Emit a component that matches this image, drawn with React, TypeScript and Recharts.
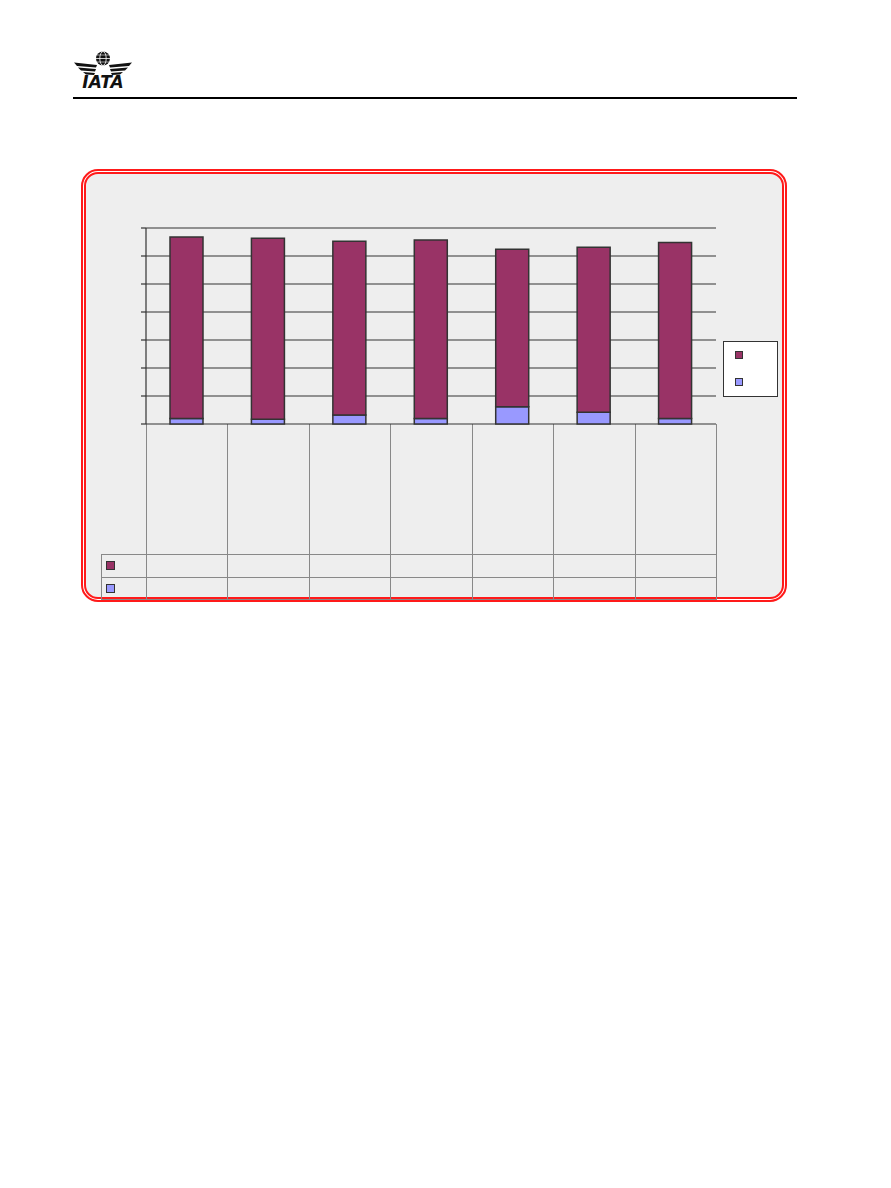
import { BarChart, Bar, XAxis, YAxis, CartesianGrid } from 'recharts';

// categories (labels are not visible in the source picture)
const categories = ['1', '2', '3', '4', '5', '6', '7'];
const lowerSeries = [0.2, 0.17, 0.32, 0.2, 0.62, 0.42, 0.2];
const upperSeries = [6.48, 6.46, 6.21, 6.37, 5.62, 5.89, 6.28];
const yTicks = [0, 1, 2, 3, 4, 5, 6, 7];

const data = categories.map((c, i) => ({
  name: c,
  lower: lowerSeries[i],
  upper: upperSeries[i],
}));

const PURPLE = '#993366';
const BLUE = '#9999ff';
const EDGE = '#333333';
const TABLE_LINE = '#888888';

// plot area in page pixels
const PLOT_LEFT = 146;
const PLOT_RIGHT = 716;
const PLOT_TOP = 228;
const PLOT_BOTTOM = 424;
const CHART_W = 891;
const CHART_H = 620;

const NoLabel = () => <g />;

function IataLogo() {
  return (
    <svg width={70} height={50} style={{ position: 'absolute', left: 70, top: 45 }}>
      <circle cx={33} cy={13.5} r={7} fill="#111" />
      <ellipse cx={33} cy={13.5} rx={3.2} ry={7} fill="none" stroke="#fff" strokeWidth={0.8} />
      <line x1={26} y1={13.5} x2={40} y2={13.5} stroke="#fff" strokeWidth={0.8} />
      <line x1={27} y1={10} x2={39} y2={10} stroke="#fff" strokeWidth={0.6} />
      <line x1={27} y1={17} x2={39} y2={17} stroke="#fff" strokeWidth={0.6} />
      {/* wings */}
      <polygon points="4,17.5 27,20 26,22.5 7,21" fill="#111" />
      <polygon points="8,22.5 26,24 25,26.5 11,25.5" fill="#111" />
      <polygon points="13,27 25,28 24,30 16,29.5" fill="#111" />
      <polygon points="62,17.5 39,20 40,22.5 59,21" fill="#111" />
      <polygon points="58,22.5 40,24 41,26.5 55,25.5" fill="#111" />
      <polygon points="53,27 41,28 42,30 50,29.5" fill="#111" />
      <text
        x={33}
        y={42.5}
        textAnchor="middle"
        fontFamily="'DejaVu Sans', 'Liberation Sans', sans-serif"
        fontWeight="bold"
        fontStyle="italic"
        fontSize={17}
        fill="#111"
      >
        IATA
      </text>
    </svg>
  );
}

function KeySquare({ x, y, color, size }: { x: number; y: number; color: string; size: number }) {
  return (
    <div
      style={{
        position: 'absolute',
        left: x,
        top: y,
        width: size,
        height: size,
        background: color,
        border: `1px solid ${EDGE}`,
        boxSizing: 'border-box',
      }}
    />
  );
}

function DataTable() {
  const colW = (PLOT_RIGHT - PLOT_LEFT) / categories.length;
  const lines = [];
  for (let i = 0; i <= categories.length; i++) {
    const x = Math.round(PLOT_LEFT + i * colW);
    lines.push(
      <div
        key={'v' + i}
        style={{ position: 'absolute', left: x, top: PLOT_BOTTOM, width: 1, height: 175, background: TABLE_LINE }}
      />
    );
  }
  const rowYs = [554, 577, 599];
  rowYs.forEach((y, i) =>
    lines.push(
      <div
        key={'h' + i}
        style={{ position: 'absolute', left: 101, top: y, width: PLOT_RIGHT - 101 + 1, height: 1, background: TABLE_LINE }}
      />
    )
  );
  lines.push(
    <div key="left" style={{ position: 'absolute', left: 101, top: 554, width: 1, height: 45, background: TABLE_LINE }} />
  );
  return (
    <>
      {lines}
      <KeySquare x={106} y={561} color={PURPLE} size={9} />
      <KeySquare x={106} y={584} color={BLUE} size={9} />
    </>
  );
}

export default function App() {
  return (
    <div style={{ position: 'absolute', left: 0, top: 0, width: 891, height: 1188, background: '#fff' }}>
      <IataLogo />
      <div style={{ position: 'absolute', left: 73, top: 97, width: 724, height: 2, background: '#000' }} />

      {/* chart frame */}
      <div
        style={{
          position: 'absolute',
          left: 81,
          top: 169,
          width: 706,
          height: 433,
          boxSizing: 'border-box',
          border: '5px double #ff1a1a',
          borderRadius: 17,
          background: '#eeeeee',
          backgroundClip: 'padding-box',
        }}
      />

      <DataTable />

      <div style={{ position: 'absolute', left: 0, top: 0 }}>
        <BarChart
          width={CHART_W}
          height={CHART_H}
          data={data}
          margin={{ top: PLOT_TOP, left: PLOT_LEFT - 5, right: CHART_W - PLOT_RIGHT, bottom: CHART_H - PLOT_BOTTOM }}
        >
          <CartesianGrid vertical={false} stroke={EDGE} strokeWidth={1.2} />
          <XAxis
            dataKey="name"
            height={0}
            tick={NoLabel}
            tickLine={false}
            axisLine={{ stroke: '#666', strokeWidth: 2 }}
          />
          <YAxis
            width={5}
            domain={[0, 7]}
            ticks={yTicks}
            tick={NoLabel}
            tickSize={5}
            tickLine={{ stroke: EDGE, strokeWidth: 1.2 }}
            axisLine={{ stroke: EDGE, strokeWidth: 1.2 }}
          />
          <Bar dataKey="lower" stackId="a" fill={BLUE} stroke={EDGE} strokeWidth={1.5} barSize={33} isAnimationActive={false} />
          <Bar dataKey="upper" stackId="a" fill={PURPLE} stroke={EDGE} strokeWidth={1.5} barSize={33} isAnimationActive={false} />
        </BarChart>
      </div>

      {/* legend */}
      <div
        style={{
          position: 'absolute',
          left: 723,
          top: 341,
          width: 55,
          height: 56,
          background: '#fff',
          border: `1px solid ${EDGE}`,
          boxSizing: 'border-box',
        }}
      />
      <KeySquare x={735} y={351} color={PURPLE} size={8} />
      <KeySquare x={735} y={378} color={BLUE} size={8} />
    </div>
  );
}
